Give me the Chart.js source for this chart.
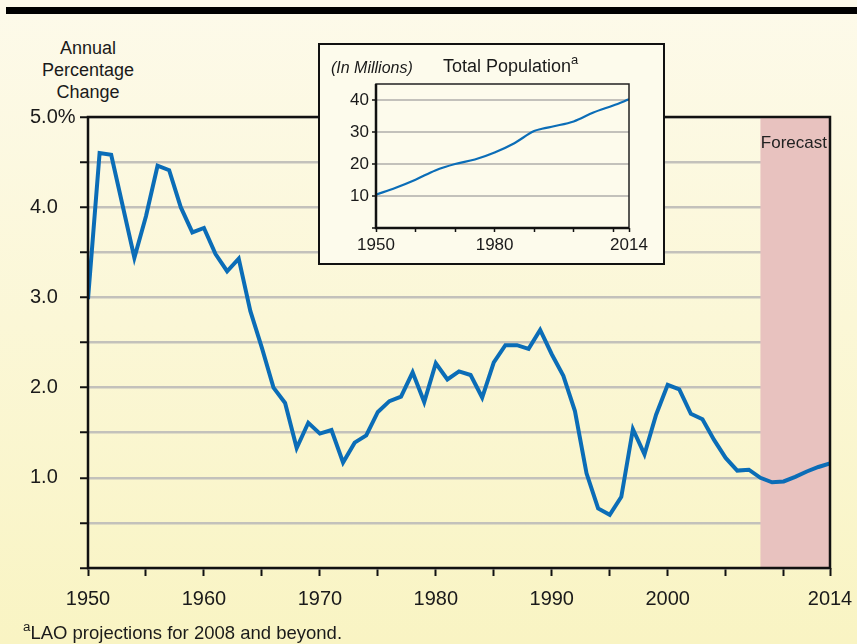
<!DOCTYPE html>
<html>
<head>
<meta charset="utf-8">
<script src="https://cdn.jsdelivr.net/npm/chart.js@4"></script>
<style>
  body { margin: 0; }
  #wrap {
    position: relative; width: 857px; height: 644px; overflow: hidden;
    background: linear-gradient(#FDFAEA, #F9F4C3);
    font-family: 'Liberation Sans', Arial, sans-serif; color: #1a1a1a;
  }
  #topbar { position: absolute; left: 6px; top: 7px; right: 0; height: 7px; background: #000; }
  #ylabel { position: absolute; left: 38px; top: 37px; width: 100px; text-align: center; font-size: 18px; line-height: 22px; }
  #main { position: absolute; left: 0; top: 0; }
  #inset { position: absolute; left: 318px; top: 43px; width: 343px; height: 218px; border: 2px solid #111; background: #FDFBEC; }
  #inset canvas { position: absolute; left: 0; top: 0; }
  #units { position: absolute; left: 11px; top: 14px; font-size: 16px; font-style: italic; }
  #itTitle { position: absolute; left: 123px; top: 11px; font-size: 18px; }
  sup { font-size: 0.72em; line-height: 0; position: relative; top: -0.1em; }
  #note { position: absolute; left: 23px; top: 622px; font-size: 18.5px; line-height: 21px; white-space: nowrap; }
</style>
</head>
<body>
<div id="wrap">
  <div id="topbar"></div>
  <div id="ylabel">Annual<br>Percentage<br>Change</div>
  <canvas id="main" width="857" height="644"></canvas>
  <div id="inset">
    <canvas id="pop" width="343" height="218"></canvas>
    <div id="units">(In Millions)</div>
    <div id="itTitle">Total Population<sup>a</sup></div>
  </div>
  <div id="note"><sup>a</sup>LAO projections for 2008 and beyond.</div>
</div>
<script>
// Main series: annual percentage change
const years = [1950, 1951, 1952, 1953, 1954, 1955, 1956, 1957, 1958, 1959,
  1960, 1961, 1962, 1963, 1964, 1965, 1966, 1967, 1968, 1969,
  1970, 1971, 1972, 1973, 1974, 1975, 1976, 1977, 1978, 1979,
  1980, 1981, 1982, 1983, 1984, 1985, 1986, 1987, 1988, 1989,
  1990, 1991, 1992, 1993, 1994, 1995, 1996, 1997, 1998, 1999,
  2000, 2001, 2002, 2003, 2004, 2005, 2006, 2007, 2008, 2009,
  2010, 2011, 2012, 2013, 2014];
const growth = [2.98, 4.60, 4.58, 4.01, 3.44, 3.90, 4.46, 4.41, 4.00, 3.72,
  3.77, 3.48, 3.29, 3.43, 2.85, 2.44, 2.00, 1.83, 1.33, 1.61,
  1.49, 1.53, 1.17, 1.39, 1.47, 1.73, 1.85, 1.90, 2.17, 1.84,
  2.27, 2.09, 2.18, 2.14, 1.89, 2.28, 2.47, 2.47, 2.43, 2.64,
  2.37, 2.13, 1.74, 1.05, 0.66, 0.59, 0.79, 1.54, 1.26, 1.70,
  2.03, 1.98, 1.71, 1.65, 1.42, 1.22, 1.08, 1.09, 1.00, 0.95,
  0.96, 1.01, 1.07, 1.12, 1.16];
const forecastFrom = 2008;
const forecastTo = 2014;

const xTicks = [1950, 1955, 1960, 1965, 1970, 1975, 1980, 1985, 1990, 1995, 2000, 2005, 2010, 2014];
const xTickLabels = [1950, 1960, 1970, 1980, 1990, 2000, 2014];
const yTickValues = [1, 2, 3, 4, 5];
const yTickLabels = ['1.0', '2.0', '3.0', '4.0', '5.0%'];

// Inset: total population (millions)
const popYears = [1950, 1955, 1960, 1965, 1970, 1975, 1980, 1985, 1990, 1992, 1995, 2000, 2005, 2010, 2014];
const popValues = [10.4, 12.6, 15.1, 18.0, 20.0, 21.4, 23.6, 26.5, 30.3, 31.0, 31.8, 33.3, 36.1, 38.3, 40.2];
const popXTicks = [1950, 1960, 1970, 1980, 1990, 2000, 2010, 2014];
const popXLabels = [1950, 1980, 2014];
const popYLabels = [10, 20, 30, 40];

const FONT = "'Liberation Sans', Arial, sans-serif";
const BLUE = '#0B6DB7';

// shaded forecast band + box border + label
const mainFrame = {
  id: 'mainFrame',
  beforeDatasetsDraw(chart) {
    const { ctx, chartArea: a, scales: { x } } = chart;
    const x0 = x.getPixelForValue(forecastFrom);
    const x1 = x.getPixelForValue(forecastTo);
    ctx.save();
    ctx.fillStyle = '#E8C2BF';
    ctx.fillRect(x0, a.top, x1 - x0, a.bottom - a.top);
    ctx.fillStyle = '#222';
    ctx.font = '17px ' + FONT;
    ctx.textAlign = 'right';
    ctx.textBaseline = 'middle';
    ctx.fillText('Forecast', x1 - 3, a.top + 26);
    ctx.restore();
  },
  afterDatasetsDraw(chart) {
    const { ctx, chartArea: a } = chart;
    ctx.save();
    ctx.strokeStyle = '#111';
    ctx.lineWidth = 2.5;
    ctx.strokeRect(a.left, a.top, a.right - a.left, a.bottom - a.top);
    ctx.restore();
  }
};

new Chart(document.getElementById('main'), {
  type: 'line',
  data: {
    datasets: [{
      data: years.map((yr, i) => ({ x: yr, y: growth[i] })),
      borderColor: BLUE,
      borderWidth: 4,
      pointRadius: 0,
      tension: 0
    }]
  },
  options: {
    responsive: false,
    animation: false,
    layout: { padding: { top: 117, right: 27, left: 30, bottom: 0 } },
    plugins: { legend: { display: false }, tooltip: { enabled: false } },
    scales: {
      x: {
        type: 'linear', min: 1950, max: 2014,
        afterBuildTicks: s => { s.ticks = xTicks.map(v => ({ value: v })); },
        afterFit: s => { s.height = 76; s.paddingLeft = 0; s.paddingRight = 0; },
        ticks: {
          autoSkip: false, maxRotation: 0, padding: 11,
          color: '#1a1a1a', font: { family: FONT, size: 20 },
          callback: v => xTickLabels.includes(v) ? String(v) : ''
        },
        grid: { drawOnChartArea: false, tickLength: 8, tickColor: '#111', tickWidth: 2 },
        border: { display: false }
      },
      y: {
        min: 0, max: 5,
        afterFit: s => { s.width = 58; s.paddingTop = 0; s.paddingBottom = 0; },
        ticks: {
          stepSize: 0.5, padding: 3, crossAlign: 'far',
          color: '#1a1a1a', font: { family: FONT, size: 20 },
          callback: v => {
            const k = yTickValues.indexOf(v);
            return k >= 0 ? yTickLabels[k] : '';
          }
        },
        grid: { color: '#C3C1BB', lineWidth: 2.5, tickLength: 8, tickColor: '#111', tickWidth: 2 },
        border: { display: false }
      }
    }
  },
  plugins: [mainFrame]
});

const insetFrame = {
  id: 'insetFrame',
  afterDatasetsDraw(chart) {
    const { ctx, chartArea: a } = chart;
    ctx.save();
    ctx.strokeStyle = '#222';
    ctx.lineWidth = 1.5;
    ctx.strokeRect(a.left, a.top, a.right - a.left, a.bottom - a.top);
    ctx.strokeStyle = '#111';
    ctx.lineWidth = 2.5;
    ctx.beginPath();
    ctx.moveTo(a.left, a.top);
    ctx.lineTo(a.left, a.bottom);
    ctx.lineTo(a.right, a.bottom);
    ctx.stroke();
    ctx.restore();
  }
};

new Chart(document.getElementById('pop'), {
  type: 'line',
  data: {
    datasets: [{
      data: popYears.map((yr, i) => ({ x: yr, y: popValues[i] })),
      borderColor: BLUE,
      borderWidth: 2.2,
      pointRadius: 0,
      cubicInterpolationMode: 'monotone'
    }]
  },
  options: {
    responsive: false,
    animation: false,
    layout: { padding: { top: 39, right: 34, left: 0, bottom: 0 } },
    plugins: { legend: { display: false }, tooltip: { enabled: false } },
    scales: {
      x: {
        type: 'linear', min: 1950, max: 2014,
        afterBuildTicks: s => { s.ticks = popXTicks.map(v => ({ value: v })); },
        afterFit: s => { s.height = 35; s.paddingLeft = 0; s.paddingRight = 0; },
        ticks: {
          autoSkip: false, maxRotation: 0, padding: 3,
          color: '#1a1a1a', font: { family: FONT, size: 17 },
          callback: v => popXLabels.includes(v) ? String(v) : ''
        },
        grid: { drawOnChartArea: false, tickLength: 4, tickColor: '#111', tickWidth: 1.5 },
        border: { display: false }
      },
      y: {
        min: 0, max: 45,
        afterFit: s => { s.width = 56; s.paddingTop = 0; s.paddingBottom = 0; },
        ticks: {
          stepSize: 5, padding: 3,
          color: '#1a1a1a', font: { family: FONT, size: 17 },
          callback: v => popYLabels.includes(v) ? String(v) : ''
        },
        grid: { color: '#C3C1BB', lineWidth: 2, tickLength: 4, tickColor: '#111', tickWidth: 1.5 },
        border: { display: false }
      }
    }
  },
  plugins: [insetFrame]
});
</script>
</body>
</html>
